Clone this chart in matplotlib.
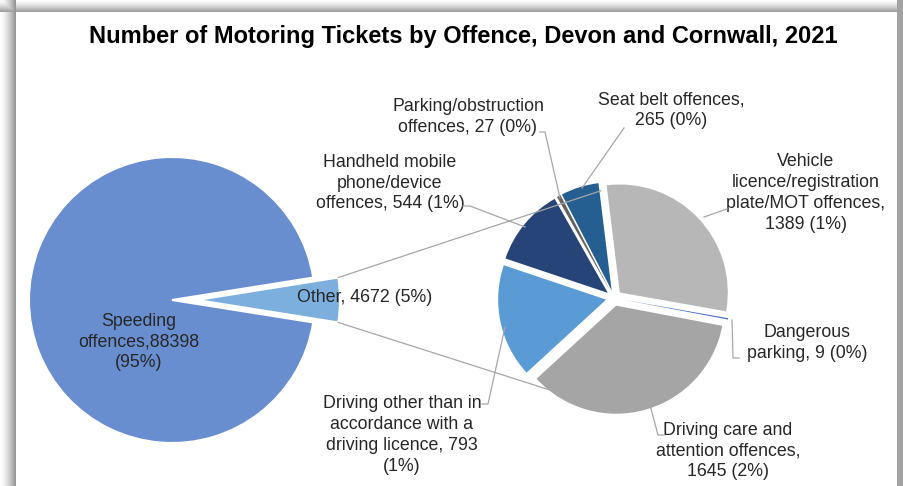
import matplotlib
matplotlib.use('Agg')
import matplotlib.pyplot as plt
import numpy as np

plt.rcParams['font.family'] = ['Liberation Sans', 'DejaVu Sans']

# main pie
main_labels = ['Other', 'Speeding offences']
main_values = [4672, 88398]
main_colors = ['#7CAFDD', '#698ED0']

# breakdown of "Other" (clockwise from the top)
sub_labels = ['Vehicle licence/registration plate/MOT offences',
              'Dangerous parking',
              'Driving care and attention offences',
              'Driving other than in accordance with a driving licence',
              'Handheld mobile phone/device offences',
              'Parking/obstruction offences',
              'Seat belt offences']
sub_values = [1389, 9, 1645, 793, 544, 27, 265]
sub_colors = ['#B7B7B7', '#4472C4', '#A5A5A5', '#5B9BD5', '#264478', '#636363', '#255E91']

W, H = 904, 486
fig = plt.figure(figsize=(W / 100, H / 100), dpi=100)

# frame with shadow
xs = np.arange(W)
ys = np.arange(H)
shade_l = np.where(xs < 16, 1.0 - 0.42 * (xs / 15.0) ** 1.5, 1.0)
shade_t = np.where(ys < 13, 1.0 - 0.38 * (ys / 12.0) ** 1.5, 1.0)
shade_r = np.where(xs >= 897, 0.64, 1.0)
shade = np.minimum(shade_l[None, :], shade_t[:, None])
shade = np.minimum(shade, shade_r[None, :])
bg = np.ones((H, W, 3)) * shade[:, :, None]
bax = fig.add_axes([0, 0, 1, 1])
bax.imshow(bg, extent=(0, W, 0, H), aspect='auto', zorder=0)
bax.axis('off')

ax = fig.add_axes([0, 0, 1, 1])
ax.patch.set_alpha(0)

def Y(v):
    return H - v

# left pie (explode is in data units here)
c1 = (172, Y(300))
r1 = 143
off1 = 25
frac_other = main_values[0] / sum(main_values)
ax.pie(main_values, colors=main_colors, radius=r1, center=c1,
       startangle=-180 * frac_other, explode=[off1, 0],
       wedgeprops=dict(edgecolor='white', linewidth=1.5), frame=True)

# right pie
c2 = (614, Y(298))
r2 = 108
ax.pie(sub_values, colors=sub_colors, radius=r2, center=c2,
       startangle=97, counterclock=False, explode=[8] * len(sub_values),
       wedgeprops=dict(linewidth=0), frame=True)

# connector lines
ang = np.deg2rad(180 * frac_other)
ox = c1[0] + off1 + r1 * np.cos(ang)
oy = r1 * np.sin(ang)
p_top = (c2[0] + r2 * np.cos(np.deg2rad(97)), c2[1] + r2 * np.sin(np.deg2rad(97)))
p_bot = (c2[0] + r2 * np.cos(np.deg2rad(-115)), c2[1] + r2 * np.sin(np.deg2rad(-115)))
lc = '#A6A6A6'
ax.plot([ox, p_top[0]], [c1[1] + oy, p_top[1]], color=lc, lw=0.9, zorder=1)
ax.plot([ox, p_bot[0]], [c1[1] - oy, p_bot[1]], color=lc, lw=0.9, zorder=1)

ax.set_xlim(0, W)
ax.set_ylim(0, H)
ax.axis('off')

tc = '#262626'
fs = 12.8
ls = 1.3

def pct(v):
    return '%d%%' % round(100 * v / sum(main_values))

fig.text(463 / W, 1 - 37 / H, 'Number of Motoring Tickets by Offence, Devon and Cornwall, 2021',
         ha='center', va='center', fontsize=17, fontweight='bold', color='black')

ax.text(139, Y(342), 'Speeding\noffences,%d\n(%s)' % (main_values[1], pct(main_values[1])),
        ha='center', va='center', fontsize=fs, color=tc, linespacing=ls)
ax.text(297, Y(298), 'Other, %d (%s)' % (main_values[0], pct(main_values[0])),
        ha='left', va='center', fontsize=fs, color=tc)

sub_text = [
    ('Vehicle\nlicence/registration\nplate/MOT offences,\n%d (%s)', 806, 193),
    ('Dangerous\nparking, %d (%s)', 807, 343),
    ('Driving care and\nattention offences,\n%d (%s)', 728, 451),
    ('Driving other than in\naccordance with a\ndriving licence, %d\n(%s)', 402, 435),
    ('Handheld mobile\nphone/device\noffences, %d (%s)', 390, 183),
    ('Parking/obstruction\noffences, %d (%s)', 468, 117),
    ('Seat belt offences,\n%d (%s)', 671, 110),
]
for (fmt, x, y), v in zip(sub_text, sub_values):
    ax.text(x, Y(y), fmt % (v, pct(v)), ha='center', va='center', fontsize=fs,
            color=tc, linespacing=ls)

# leader lines (image pixel coordinates)
leaders = [
    [(727, 209), (704, 217)],
    [(739, 358), (733, 358), (732, 320)],
    [(665, 435), (658, 435), (650, 405)],
    [(482, 404), (488, 404), (505, 327)],
    [(463, 206), (470, 206), (525, 227)],
    [(540, 132), (545, 132), (560, 198)],
    [(624, 128), (582, 188)],
]
for pts in leaders:
    px = [p[0] for p in pts]
    py = [Y(p[1]) for p in pts]
    ax.plot(px, py, color=lc, lw=0.9, zorder=3)

fig.savefig('out.png', dpi=100)
